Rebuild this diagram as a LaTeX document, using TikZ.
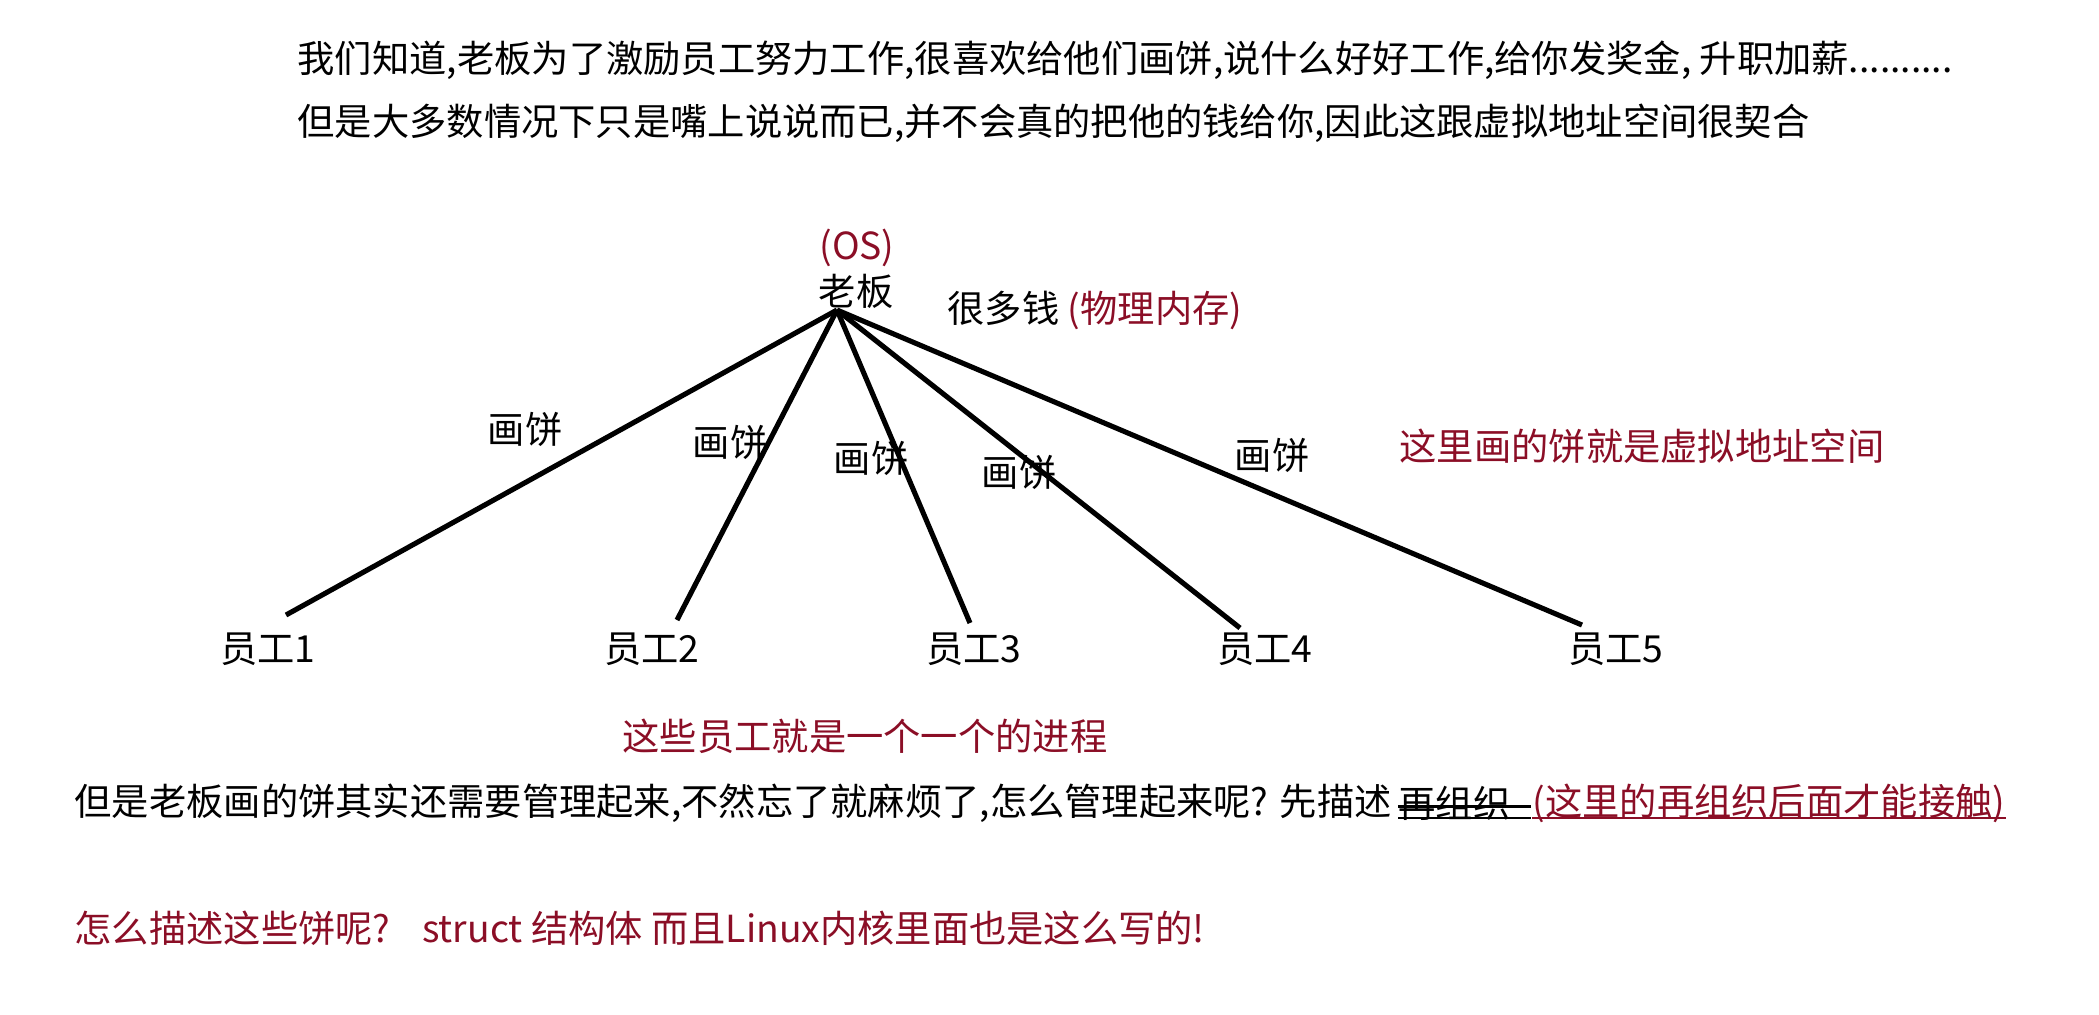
\documentclass[tikz,border=0pt]{standalone}
\usepackage{fontspec}
\setmainfont{Noto Sans CJK SC}
\usetikzlibrary{positioning}
\definecolor{osred}{RGB}{139,14,38}

\begin{document}
\begin{tikzpicture}[
    x=0.01cm, y=-0.01cm,
    font=\fontsize{10.6}{13}\selectfont,
    note/.style={inner sep=0pt, anchor=west},
    rednote/.style={note, text=osred},
    worker/.style={inner sep=0pt},
    pie/.style={inner sep=0pt},
    stick/.style={line width=1.45pt, draw=black},
    mark line/.style={line width=0.8pt}
]
    \useasboundingbox (0,0) rectangle (2099,1014);

    % Intro text
    \node[note] (intro1) at (297, 60) {我们知道,老板为了激励员工努力工作,很喜欢给他们画饼,说什么好好工作,给你发奖金, 升职加薪..........};
    \node[note] (intro2) at (297, 123) {但是大多数情况下只是嘴上说说而已,并不会真的把他的钱给你,因此这跟虚拟地址空间很契合};

    % Boss
    \node[inner sep=0pt, text=osred] (os) at (857, 248) {(OS)};
    \node[inner sep=0pt] (boss) at (856, 291) {老板};
    \node[note] (money) at (947, 310) {很多钱 \textcolor{osred}{(物理内存)}};
    \coordinate (apex) at (837, 310);

    % Workers
    \node[worker] (w1) at (268, 649) {员工1};
    \node[worker] (w2) at (652, 649) {员工2};
    \node[worker] (w3) at (974, 649) {员工3};
    \node[worker] (w4) at (1265, 649) {员工4};
    \node[worker] (w5) at (1616, 649) {员工5};

    % Sticks from boss to workers
    \draw[stick] (apex) -- ([shift={(18,-34)}]w1.center);
    \draw[stick] (apex) -- ([shift={(25,-29)}]w2.center);
    \draw[stick] (apex) -- ([shift={(-4,-26)}]w3.center);
    \draw[stick] (apex) -- ([shift={(-25,-21)}]w4.center);
    \draw[stick] (apex) -- ([shift={(-34,-24)}]w5.center);

    % Pie labels
    \node[pie] (pie1) at (525, 429) {画饼};
    \node[pie] (pie2) at (730, 442) {画饼};
    \node[pie] (pie3) at (871, 458) {画饼};
    \node[pie] (pie4) at (1019, 472) {画饼};
    \node[pie] (pie5) at (1272, 455) {画饼};

    % Notes
    \node[rednote] (vspace) at (1399, 446) {这里画的饼就是虚拟地址空间};
    \node[rednote] (procs) at (622, 736) {这些员工就是一个一个的进程};

    % Management line
    \node[note] (manage) at (74, 803) {但是老板画的饼其实还需要管理起来,不然忘了就麻烦了,怎么管理起来呢? 先描述};
    \node[note] (regroup) at (1398, 803) {再组织–};
    \node[rednote] (later) at (1532, 803) {(这里的再组织后面才能接触)};
    \draw[mark line] ([yshift=-1pt]regroup.west) -- ([yshift=-1pt]regroup.east);
    \draw[mark line] ([shift={(0,15)}]regroup.west) -- ([shift={(0,15)}]regroup.east);
    \draw[mark line, osred] ([shift={(0,15)}]later.west) -- ([shift={(0,15)}]later.east);

    % Describe line
    \node[rednote] (describe) at (74, 928) {怎么描述这些饼呢?\hspace{0.85em}struct 结构体 而且Linux内核里面也是这么写的!};

\end{tikzpicture}
\end{document}
